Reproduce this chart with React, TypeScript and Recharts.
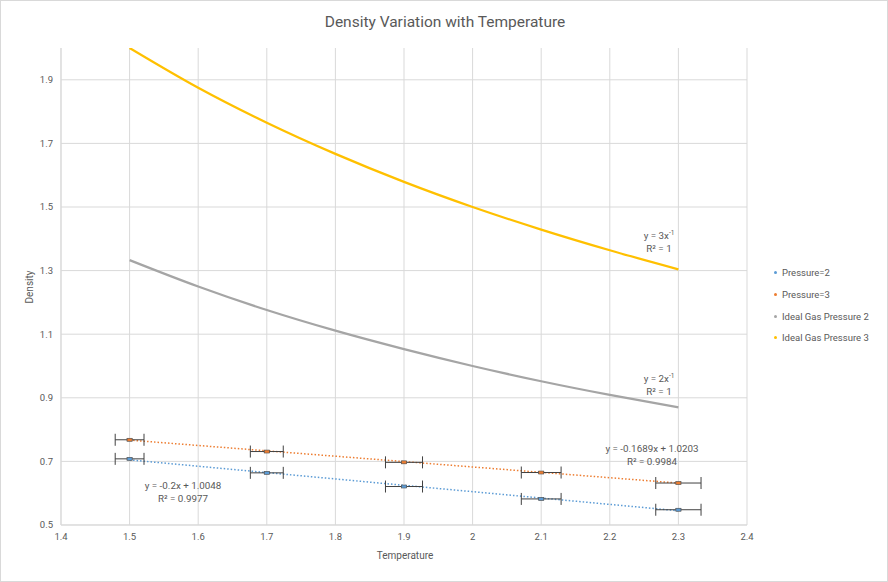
import {
  ComposedChart,
  Line,
  Scatter,
  ErrorBar,
  XAxis,
  YAxis,
  CartesianGrid,
} from 'recharts';

const temps = [1.5, 1.7, 1.9, 2.1, 2.3];
const pressure2 = [0.708, 0.664, 0.621, 0.582, 0.548];
const pressure3 = [0.768, 0.731, 0.697, 0.665, 0.632];
const tempErrors = [0.021, 0.024, 0.027, 0.029, 0.033];
const densityErrors = [0.003, 0.003, 0.003, 0.003, 0.003];

const curveTemps = [1.5, 1.6, 1.7, 1.8, 1.9, 2.0, 2.1, 2.2, 2.3];
const ideal2 = [1.333, 1.25, 1.176, 1.111, 1.053, 1.0, 0.952, 0.909, 0.87];
const ideal3 = [2.0, 1.875, 1.765, 1.667, 1.579, 1.5, 1.429, 1.364, 1.304];

const trendTemps = [1.5, 2.3];
const trend2 = [0.7048, 0.5448];
const trend3 = [0.767, 0.6318];

const xTicks = [1.4, 1.5, 1.6, 1.7, 1.8, 1.9, 2.0, 2.1, 2.2, 2.3, 2.4];
const yTicks = [0.5, 0.7, 0.9, 1.1, 1.3, 1.5, 1.7, 1.9];

const COLORS = {
  p2: '#5B9BD5',
  p3: '#ED7D31',
  ideal2: '#A5A5A5',
  ideal3: '#FFC000',
};

const FONT = 'Roboto, "Liberation Sans", sans-serif';
const TEXT = '#595959';

const points = (ys: number[]) =>
  temps.map((x, i) => ({ x, y: ys[i], ex: tempErrors[i], ey: densityErrors[i] }));
const curve = (xs: number[], ys: number[]) => xs.map((x, i) => ({ x, y: ys[i] }));

const legendItems = [
  { name: 'Pressure=2', color: COLORS.p2 },
  { name: 'Pressure=3', color: COLORS.p3 },
  { name: 'Ideal Gas Pressure 2', color: COLORS.ideal2 },
  { name: 'Ideal Gas Pressure 3', color: COLORS.ideal3 },
];

function SquareMarker(props: any) {
  const { cx, cy, fill } = props;
  if (cx == null || cy == null) return null;
  return (
    <rect x={cx - 2.5} y={cy - 1.5} width={5} height={3} fill={fill} stroke="#595959" strokeWidth={0.6} />
  );
}

function ChartLegend() {
  return (
    <div
      style={{
        position: 'absolute',
        left: 773,
        top: 261,
        fontFamily: FONT,
        fontSize: 9.5,
        color: TEXT,
      }}
    >
      {legendItems.map((it) => (
        <div key={it.name} style={{ display: 'flex', alignItems: 'center', height: 21.7 }}>
          <span
            style={{
              width: 3,
              height: 3,
              borderRadius: 2,
              background: it.color,
              marginRight: 5,
              display: 'inline-block',
            }}
          />
          {it.name}
        </div>
      ))}
    </div>
  );
}

const labelStyle: React.CSSProperties = {
  position: 'absolute',
  fontFamily: FONT,
  fontSize: 9.8,
  color: TEXT,
  textAlign: 'center',
  lineHeight: '12.5px',
  whiteSpace: 'nowrap',
  transform: 'translateX(-50%)',
};

export default function App() {
  return (
    <div
      style={{
        position: 'relative',
        width: 888,
        height: 582,
        background: '#fff',
        boxSizing: 'border-box',
        border: '1px solid #d9d9d9',
      }}
    >
      <style>{`body{margin:0}`}</style>
      <div
        style={{
          position: 'absolute',
          top: 12,
          left: 0,
          width: 888,
          textAlign: 'center',
          fontFamily: FONT,
          fontSize: 15.5,
          color: TEXT,
        }}
      >
        Density Variation with Temperature
      </div>
      <ComposedChart
        width={886}
        height={580}
        margin={{ top: 47, right: 140, bottom: 26, left: 20 }}
        style={{ position: 'absolute', top: 0, left: 0 }}
      >
        <CartesianGrid stroke="#d9d9d9" horizontalValues={yTicks} verticalValues={xTicks} />
        <XAxis
          type="number"
          dataKey="x"
          domain={[1.4, 2.4]}
          ticks={xTicks}
          tickFormatter={(v: number) => String(Math.round(v * 10) / 10)}
          axisLine={{ stroke: '#d9d9d9' }}
          tickLine={false}
          tick={{ fontSize: 9.5, fill: TEXT, fontFamily: FONT }}
          height={30}
          allowDataOverflow
        />
        <YAxis
          type="number"
          dataKey="y"
          domain={[0.5, 2.0]}
          ticks={yTicks}
          tickFormatter={(v: number) => v.toFixed(1)}
          axisLine={{ stroke: '#d9d9d9' }}
          tickLine={false}
          tick={{ fontSize: 9.5, fill: TEXT, fontFamily: FONT }}
          width={40}
          allowDataOverflow
        />
        <Line
          data={curve(curveTemps, ideal3)}
          dataKey="y"
          type="monotone"
          stroke={COLORS.ideal3}
          strokeWidth={2.25}
          dot={false}
          isAnimationActive={false}
        />
        <Line
          data={curve(curveTemps, ideal2)}
          dataKey="y"
          type="monotone"
          stroke={COLORS.ideal2}
          strokeWidth={2.25}
          dot={false}
          isAnimationActive={false}
        />
        <Line
          data={curve(trendTemps, trend3)}
          dataKey="y"
          stroke={COLORS.p3}
          strokeWidth={1.5}
          strokeDasharray="1.5 2"
          dot={false}
          isAnimationActive={false}
        />
        <Line
          data={curve(trendTemps, trend2)}
          dataKey="y"
          stroke={COLORS.p2}
          strokeWidth={1.5}
          strokeDasharray="1.5 2"
          dot={false}
          isAnimationActive={false}
        />
        <Scatter
          data={points(pressure3)}
          dataKey="y"
          fill={COLORS.p3}
          shape={(p: any) => <SquareMarker {...p} fill={COLORS.p3} />}
          isAnimationActive={false}
        >
          <ErrorBar dataKey="ex" direction="x" width={6} stroke="#404040" strokeWidth={1} />
          <ErrorBar dataKey="ey" direction="y" width={3} stroke="#404040" strokeWidth={0.8} />
        </Scatter>
        <Scatter
          data={points(pressure2)}
          dataKey="y"
          fill={COLORS.p2}
          shape={(p: any) => <SquareMarker {...p} fill={COLORS.p2} />}
          isAnimationActive={false}
        >
          <ErrorBar dataKey="ex" direction="x" width={6} stroke="#404040" strokeWidth={1} />
          <ErrorBar dataKey="ey" direction="y" width={3} stroke="#404040" strokeWidth={0.8} />
        </Scatter>
      </ComposedChart>

      <ChartLegend />

      <div style={{ ...labelStyle, left: 658, top: 226 }}>
        y = 3x<sup style={{ fontSize: 6.5 }}>-1</sup>
        <br />
        R² = 1
      </div>
      <div style={{ ...labelStyle, left: 658, top: 369 }}>
        y = 2x<sup style={{ fontSize: 6.5 }}>-1</sup>
        <br />
        R² = 1
      </div>
      <div style={{ ...labelStyle, left: 651, top: 442 }}>
        y = -0.1689x + 1.0203
        <br />
        R² = 0.9984
      </div>
      <div style={{ ...labelStyle, left: 182, top: 479 }}>
        y = -0.2x + 1.0048
        <br />
        R² = 0.9977
      </div>

      <div
        style={{
          position: 'absolute',
          top: 549,
          left: 304,
          width: 200,
          textAlign: 'center',
          fontFamily: FONT,
          fontSize: 10,
          color: TEXT,
        }}
      >
        Temperature
      </div>
      <div
        style={{
          position: 'absolute',
          top: 286,
          left: 28,
          transform: 'translate(-50%, -50%) rotate(-90deg)',
          fontFamily: FONT,
          fontSize: 10,
          color: TEXT,
          whiteSpace: 'nowrap',
        }}
      >
        Density
      </div>
    </div>
  );
}
